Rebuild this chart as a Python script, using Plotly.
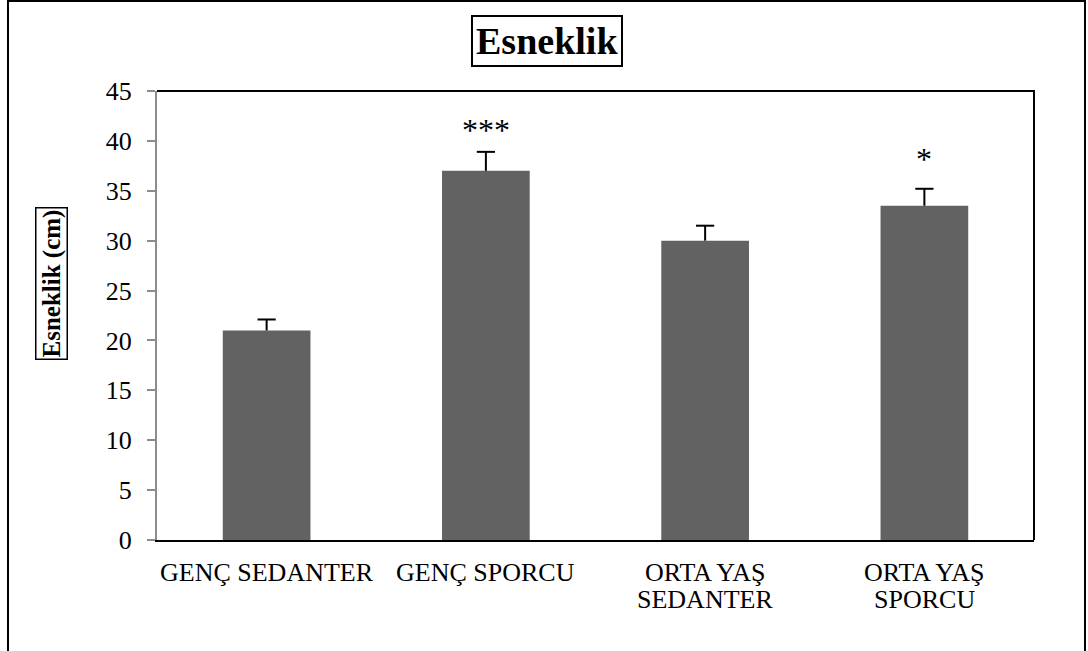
import plotly.graph_objects as go

# Group means and standard errors for flexibility (cm)
categories = ["GENÇ SEDANTER", "GENÇ SPORCU", "ORTA YAŞ<br>SEDANTER", "ORTA YAŞ<br>SPORCU"]
means = [21.0, 37.0, 30.0, 33.5]
errors = [1.1, 1.9, 1.5, 1.7]
significance = ["", "***", "", "*"]
y_ticks = [0, 5, 10, 15, 20, 25, 30, 35, 40, 45]

W, H = 1088, 651
ML, MR, MT, MB = 157, 54, 91, 111
PW, PH = W - ML - MR, H - MT - MB


def px(x):
    return (x - ML) / PW


def py(y):
    return (H - MB - y) / PH


SERIF = "Liberation Serif, Times New Roman, serif"
upper = [m + e for m, e in zip(means, errors)]

fig = go.Figure()
# bars with upward-only error stems (no caps here)
fig.add_trace(go.Bar(
    x=categories,
    y=means,
    width=0.4,
    marker=dict(color="#626262", line=dict(width=0)),
    error_y=dict(type="data", symmetric=False, array=errors,
                 arrayminus=[0] * len(errors),
                 color="black", thickness=2, width=0),
    hoverinfo="skip",
))
# caps at the top of each error stem
fig.add_trace(go.Scatter(
    x=categories,
    y=upper,
    mode="markers",
    marker=dict(symbol="line-ew", size=13, line=dict(color="black", width=2)),
    hoverinfo="skip",
))

annotations = []

# Category labels below the axis, one annotation per line for tight spacing
for cat in categories:
    for j, line in enumerate(cat.split("<br>")):
        annotations.append(dict(
            x=cat, y=0, xref="x", yref="paper", text=line, showarrow=False,
            xanchor="center", yanchor="middle", yshift=-32 - 27 * j,
            font=dict(family=SERIF, size=26, color="black"),
        ))

# Significance asterisks above the error bars
mark_shift = {"***": 2, "*": 10}
for cat, top, s in zip(categories, upper, significance):
    if s:
        annotations.append(dict(
            x=cat, y=top, xref="x", yref="y", text=s, showarrow=False,
            xanchor="center", yanchor="bottom", yshift=mark_shift.get(s, 6),
            font=dict(family=SERIF, size=32, color="black"),
        ))

# Boxed title
annotations.append(dict(
    x=px(547), y=py(41), xref="paper", yref="paper",
    text="<b>Esneklik</b>", showarrow=False,
    xanchor="center", yanchor="middle",
    font=dict(family=SERIF, size=38, color="black"),
    bordercolor="black", borderwidth=2, borderpad=3, bgcolor="white",
))

# Boxed y-axis title
annotations.append(dict(
    x=px(51.5), y=py(283.5), xref="paper", yref="paper",
    text="<b>Esneklik (cm)</b>", showarrow=False, textangle=-90,
    xanchor="center", yanchor="middle",
    font=dict(family=SERIF, size=25, color="black"),
    bordercolor="black", borderwidth=1.5, borderpad=1, bgcolor="white",
))

shapes = [
    # outer chart frame
    dict(type="rect", xref="paper", yref="paper",
         x0=px(8), x1=px(1085), y0=py(700), y1=py(1),
         line=dict(color="black", width=2), fillcolor="rgba(0,0,0,0)", layer="below"),
    # top and right edges of the plot area
    dict(type="path", xref="paper", yref="paper",
         path="M 0 1 L 1 1 L 1 0",
         line=dict(color="black", width=2)),
]

fig.update_layout(
    width=W, height=H,
    margin=dict(l=ML, r=MR, t=MT, b=MB, pad=0),
    paper_bgcolor="white", plot_bgcolor="white",
    showlegend=False,
    annotations=annotations,
    shapes=shapes,
    xaxis=dict(
        showticklabels=False, ticks="", showgrid=False, zeroline=False,
        showline=True, linecolor="black", linewidth=2,
    ),
    yaxis=dict(
        range=[0, 45], tickvals=y_ticks, showgrid=False, zeroline=False,
        showline=True, linecolor="#8c8c8c", linewidth=2,
        ticks="outside", ticklen=8, tickwidth=2, tickcolor="#8c8c8c",
        ticklabelstandoff=10,
        tickfont=dict(family=SERIF, size=26, color="black"),
    ),
)

fig.write_html("out.html")
